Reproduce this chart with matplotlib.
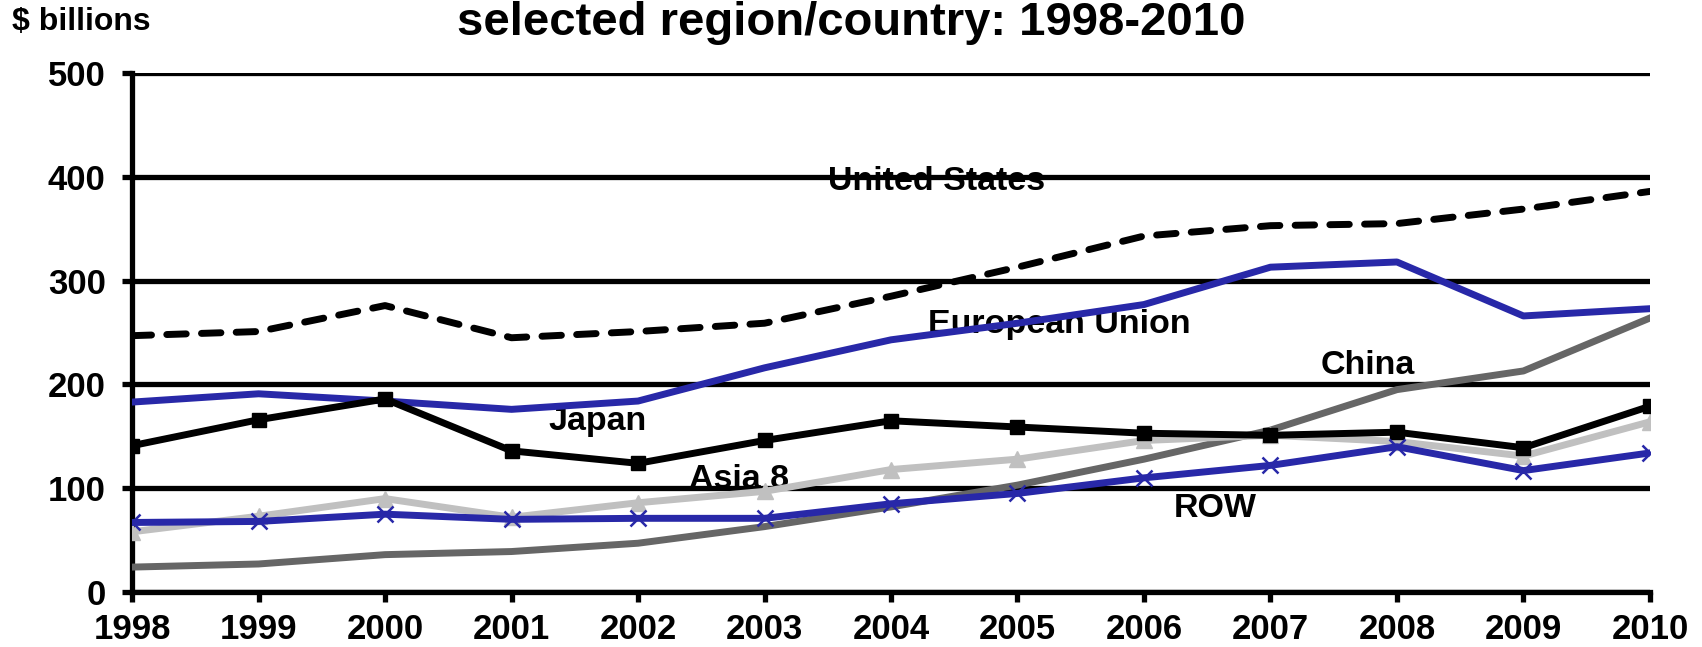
import matplotlib
matplotlib.use("Agg")
import matplotlib.pyplot as plt

plt.rcParams['font.family'] = ['Liberation Sans', 'DejaVu Sans']
plt.rcParams['font.weight'] = 'bold'

years = [1998, 1999, 2000, 2001, 2002, 2003, 2004, 2005, 2006, 2007, 2008, 2009, 2010]
united_states = [247, 251, 276, 245, 251, 259, 285, 313, 343, 353, 355, 369, 386]
european_union = [183, 191, 184, 176, 184, 216, 243, 259, 277, 313, 318, 266, 273]
japan = [141, 166, 186, 136, 124, 146, 165, 159, 153, 151, 154, 139, 179]
asia_8 = [58, 73, 90, 72, 86, 97, 118, 128, 146, 151, 145, 131, 164]
row = [67, 68, 75, 70, 71, 71, 85, 95, 110, 122, 140, 117, 134]
china = [24, 27, 36, 39, 47, 63, 82, 103, 128, 156, 195, 213, 264]
y_ticks = [0, 100, 200, 300, 400, 500]

fig = plt.figure(figsize=(17.02, 6.47), dpi=100)
ax = fig.add_axes([0.0776, 0.085, 0.8918, 0.802])

blue = '#2828A8'
lw = 5.0
grid_lw = 3.8

ax.plot(years, china, color='#666666', lw=lw, zorder=5)
ax.plot(years, european_union, color=blue, lw=lw, zorder=6)
ax.plot(years, united_states, color='black', lw=lw, dashes=(2.8, 2.2),
        dash_capstyle='round', zorder=6)
ax.plot(years, asia_8, color='#C0C0C0', lw=lw, marker='^', ms=12, zorder=7)
ax.plot(years, japan, color='black', lw=lw, marker='s', ms=10.5, zorder=8)
ax.plot(years, row, color=blue, lw=lw, marker='x', ms=12, mew=1.8, zorder=9)

labels = [
    ("United States", 2004.36, 396),
    ("European Union", 2005.33, 258),
    ("China", 2007.77, 218),
    ("Japan", 2001.68, 164),
    ("Asia 8", 2002.80, 108),
    ("ROW", 2006.56, 80),
]
for text, x, y in labels:
    ax.text(x, y, text, ha='center', va='center', fontsize=24.5,
            fontweight='bold', zorder=1)

ax.set_xlim(1998, 2010)
ax.set_ylim(0, 500)
ax.set_xticks(years)
ax.set_yticks(y_ticks)
ax.set_xticklabels([str(y) for y in years])
ax.yaxis.grid(True, color='black', lw=grid_lw)
ax.set_axisbelow(False)
for gl in ax.get_ygridlines():
    gl.set_zorder(3)

for side in ['top', 'right']:
    ax.spines[side].set_visible(False)
ax.spines['left'].set_linewidth(grid_lw)
ax.spines['bottom'].set_linewidth(grid_lw)
ax.tick_params(axis='both', direction='out', width=grid_lw, length=7,
               labelsize=25)
ax.tick_params(axis='x', pad=8)
ax.tick_params(axis='y', pad=12)
for lab in ax.get_xticklabels() + ax.get_yticklabels():
    lab.set_fontweight('bold')

fig.text(0.5, 0.946, "selected region/country: 1998-2010", ha='center',
         va='baseline', fontsize=34, fontweight='bold')
fig.text(0.007, 0.966, "$ billions", ha='left', va='center', fontsize=23,
         fontweight='bold')

fig.savefig("out.png", dpi=100)
